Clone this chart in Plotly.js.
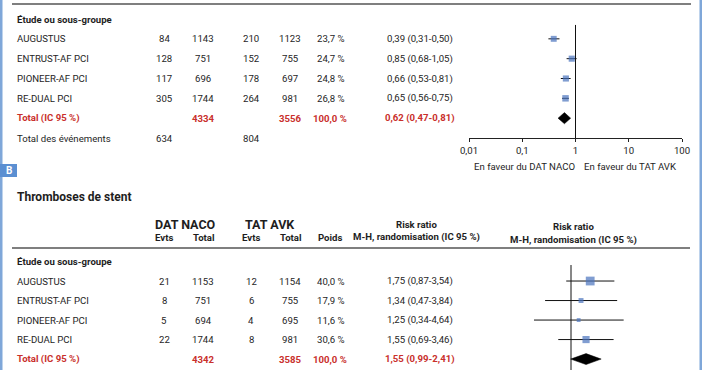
<!DOCTYPE html>
<html>
<head>
<meta charset="utf-8">
<script src="https://cdn.plot.ly/plotly-3.0.1.min.js"></script>
<style>html,body{margin:0;padding:0;background:#fff;}#chart{width:702px;height:370px;}</style>
</head>
<body>
<div id="chart"></div>
<script>
// ---------- DATA ----------
const studies = ['AUGUSTUS', 'ENTRUST-AF PCI', 'PIONEER-AF PCI', 'RE-DUAL PCI'];

// Panel A
const aNacoEvts = [84, 128, 117, 305];
const aNacoTotal = [1143, 751, 696, 1744];
const aAvkEvts = [210, 152, 178, 264];
const aAvkTotal = [1123, 755, 697, 981];
const aWeight = [23.7, 24.7, 24.8, 26.8];
const aRR = [0.39, 0.85, 0.66, 0.65];
const aLo = [0.31, 0.68, 0.53, 0.56];
const aHi = [0.50, 1.05, 0.81, 0.75];
const aTotals = [4334, 3556];            // DAT NACO total, TAT AVK total
const aPooled = [0.62, 0.47, 0.81];      // RR, low, high
const aEvents = [634, 804];              // total des événements

// Panel B
const bNacoEvts = [21, 8, 5, 22];
const bNacoTotal = [1153, 751, 694, 1744];
const bAvkEvts = [12, 6, 4, 8];
const bAvkTotal = [1154, 755, 695, 981];
const bWeight = [40.0, 17.9, 11.6, 30.6];
const bRR = [1.75, 1.34, 1.25, 1.55];
const bLo = [0.87, 0.47, 0.34, 0.69];
const bHi = [3.54, 3.84, 4.64, 3.46];
const bTotals = [4342, 3585];
const bPooled = [1.55, 0.99, 2.41];

const axisTicks = [0.01, 0.1, 1, 10, 100];
const axisTickText = ['0,01', '0,1', '1', '10', '100'];

// ---------- HELPERS ----------
const W = 702, H = 370;
const FONT = 'Roboto, "Liberation Sans", Arial, sans-serif';
const TXT = '#1e1e1e';
const RED = '#c9302c';
const BLUE = '#4a74bd';
const px = x => x / W;
const py = y => 1 - y / H;
const f2 = v => v.toFixed(2).replace('.', ',');
const f1 = v => v.toFixed(1).replace('.', ',') + ' %';
const rrText = (r, l, h) => f2(r) + ' (' + f2(l) + '-' + f2(h) + ')';
const msize = w => 1.8 + 0.175 * w;

const colX = [164, 203, 251, 290, 330, 420];
const annotations = [];
function ann(text, x, y, yref, opts) {
  opts = opts || {};
  annotations.push(Object.assign({
    text: text, x: px(x), y: y, xref: 'paper', yref: yref,
    xanchor: opts.align || 'center', yanchor: 'middle', showarrow: false,
    font: {family: FONT, size: opts.size || 9.6, color: opts.color || TXT}
  }, opts.extra || {}));
}
const B = s => '<b>' + s + '</b>';

function tableRows(yref, nE, nT, aE, aT, wt, rr, lo, hi, totals, pooled) {
  ann(B('Étude ou sous-groupe'), 15, 0, yref, {align: 'left'});
  studies.forEach((s, i) => {
    const r = i + 1;
    ann(s, 15, r, yref, {align: 'left'});
    ann(String(nE[i]), colX[0], r, yref);
    ann(String(nT[i]), colX[1], r, yref);
    ann(String(aE[i]), colX[2], r, yref);
    ann(String(aT[i]), colX[3], r, yref);
    ann(f1(wt[i]), colX[4], r, yref);
    ann(rrText(rr[i], lo[i], hi[i]), colX[5], r, yref);
  });
  const r = studies.length + 1;
  ann(B('Total (IC 95 %)'), 15, r, yref, {align: 'left', color: RED});
  ann(B(String(totals[0])), colX[1], r, yref, {color: RED});
  ann(B(String(totals[1])), colX[3], r, yref, {color: RED});
  ann(B(f1(100)), colX[4], r, yref, {color: RED});
  ann(B(rrText(pooled[0], pooled[1], pooled[2])), colX[5], r, yref, {color: RED});
}

tableRows('y', aNacoEvts, aNacoTotal, aAvkEvts, aAvkTotal, aWeight, aRR, aLo, aHi, aTotals, aPooled);
ann('Total des événements', 15, 6, 'y', {align: 'left'});
ann(String(aEvents[0]), colX[0], 6, 'y');
ann(String(aEvents[1]), colX[2], 6, 'y');

tableRows('y2', bNacoEvts, bNacoTotal, bAvkEvts, bAvkTotal, bWeight, bRR, bLo, bHi, bTotals, bPooled);

// favour labels
ann('En faveur du DAT NACO', 524, py(166), 'paper');
ann('En faveur du TAT AVK', 630, py(166), 'paper');

// panel B header
ann(B('B'), 8.5, py(170.5), 'paper', {color: '#ffffff', size: 10});
ann(B('Thromboses de stent'), 15, py(197), 'paper', {align: 'left', size: 12});
ann(B('DAT NACO'), 185, py(224), 'paper', {size: 12.5});
ann(B('TAT AVK'), 270, py(224), 'paper', {size: 12.5});
ann(B('Evts'), colX[0], py(237.5), 'paper');
ann(B('Total'), colX[1], py(237.5), 'paper');
ann(B('Evts'), colX[2], py(237.5), 'paper');
ann(B('Total'), colX[3], py(237.5), 'paper');
ann(B('Poids'), colX[4], py(237.5), 'paper');
ann(B('Risk ratio'), 416, py(224.5), 'paper');
ann(B('M-H, randomisation (IC 95 %)'), 416, py(237), 'paper');
ann(B('Risk ratio'), 573, py(226), 'paper');
ann(B('M-H, randomisation (IC 95 %)'), 573, py(239.5), 'paper');

// ---------- TRACES ----------
function forest(xa, ya, rr, lo, hi, wt, pooled, lineTop, lineBottom) {
  const rows = studies.map((_, i) => i + 1);
  const tr = [];
  tr.push({
    x: [1, 1], y: [lineTop, lineBottom], xaxis: xa, yaxis: ya, mode: 'lines',
    line: {color: '#111', width: 1}, hoverinfo: 'skip'
  });
  tr.push({
    x: rr, y: rows, xaxis: xa, yaxis: ya, mode: 'markers',
    marker: {symbol: 'square', color: BLUE, size: wt.map(msize), line: {width: 0}},
    error_x: {type: 'data', symmetric: false,
      array: hi.map((h, i) => h - rr[i]), arrayminus: lo.map((l, i) => rr[i] - l),
      color: '#111', thickness: 1, width: 0}
  });
  const r = studies.length + 1, d = 0.28;
  tr.push({
    x: [pooled[1], pooled[0], pooled[2], pooled[0], pooled[1]],
    y: [r, r - d, r, r + d, r], xaxis: xa, yaxis: ya,
    mode: 'lines', fill: 'toself', fillcolor: '#000', line: {color: '#000', width: 0.5}
  });
  return tr;
}
const data = [].concat(
  forest('x', 'y', aRR, aLo, aHi, aWeight, aPooled, 0.3, 6),
  forest('x2', 'y2', bRR, bLo, bHi, bWeight, bPooled, 0.18, 6)
);

// ---------- LAYOUT ----------
const shapes = [
  {type: 'rect', xref: 'paper', yref: 'paper', x0: 0, x1: px(2.5), y0: 0, y1: 1, fillcolor: '#7fa7d9', line: {width: 0}},
  {type: 'rect', xref: 'paper', yref: 'paper', x0: px(699.5), x1: 1, y0: 0, y1: 1, fillcolor: '#7fa7d9', line: {width: 0}},
  {type: 'rect', xref: 'paper', yref: 'paper', x0: 0, x1: px(17), y0: py(177), y1: py(164), fillcolor: '#5b8fd2', line: {width: 0}},
  {type: 'line', xref: 'paper', yref: 'paper', x0: px(12), x1: px(691), y0: py(4), y1: py(4), line: {color: '#555', width: 1.5}},
  {type: 'line', xref: 'paper', yref: 'paper', x0: px(12), x1: px(690), y0: py(248), y1: py(248), line: {color: '#555', width: 1.5}}
];

const layout = {
  width: W, height: H,
  margin: {l: 0, r: 0, t: 0, b: 0, pad: 0},
  paper_bgcolor: '#fff', plot_bgcolor: 'rgba(0,0,0,0)',
  showlegend: false, hovermode: false,
  font: {family: FONT, size: 9.6, color: TXT},
  xaxis: {
    type: 'log', range: [-2, 2], domain: [px(469), px(682)], anchor: 'y',
    showgrid: false, zeroline: false, showline: true, linecolor: '#222', linewidth: 1,
    ticks: 'outside', ticklen: 3, tickwidth: 1, tickcolor: '#222',
    tickvals: axisTicks, ticktext: axisTickText,
    tickfont: {family: FONT, size: 9.6, color: TXT}, fixedrange: true
  },
  yaxis: {
    range: [6, -0.958], domain: [py(138), 1], anchor: 'x', visible: false, fixedrange: true
  },
  xaxis2: {
    type: 'log', range: [-1.405, 1.405], domain: [px(460), px(682)], anchor: 'y2',
    visible: false, fixedrange: true
  },
  yaxis2: {
    range: [5.56, -0.59], domain: [0, py(250)], anchor: 'x2', visible: false, fixedrange: true
  },
  shapes: shapes,
  annotations: annotations
};

Plotly.newPlot('chart', data, layout, {displayModeBar: false, staticPlot: true});
</script>
</body>
</html>
